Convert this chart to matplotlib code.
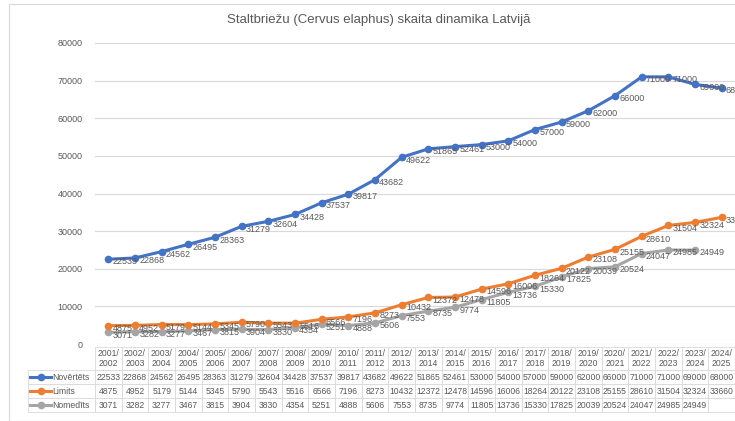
import matplotlib.pyplot as plt
from matplotlib.patches import Rectangle
from matplotlib.lines import Line2D

plt.rcParams['font.family'] = ['Liberation Sans', 'DejaVu Sans']

seasons = ["2001/\n2002", "2002/\n2003", "2003/\n2004", "2004/\n2005", "2005/\n2006",
           "2006/\n2007", "2007/\n2008", "2008/\n2009", "2009/\n2010", "2010/\n2011",
           "2011/\n2012", "2012/\n2013", "2013/\n2014", "2014/\n2015", "2015/\n2016",
           "2016/\n2017", "2017/\n2018", "2018/\n2019", "2019/\n2020", "2020/\n2021",
           "2021/\n2022", "2022/\n2023", "2023/\n2024", "2024/\n2025"]
novertets = [22533, 22868, 24562, 26495, 28363, 31279, 32604, 34428, 37537, 39817,
             43682, 49622, 51865, 52461, 53000, 54000, 57000, 59000, 62000, 66000,
             71000, 71000, 69000, 68000]
limits = [4875, 4952, 5179, 5144, 5345, 5790, 5543, 5516, 6566, 7196,
          8273, 10432, 12372, 12478, 14596, 16006, 18264, 20122, 23108, 25155,
          28610, 31504, 32324, 33660]
nomedits = [3071, 3282, 3277, 3467, 3815, 3904, 3830, 4354, 5251, 4888,
            5606, 7553, 8735, 9774, 11805, 13736, 15330, 17825, 20039, 20524,
            24047, 24985, 24949]
series_names = ["Novērtēts", "Limits", "Nomedīts"]
colors = ["#4472C4", "#ED7D31", "#A5A5A5"]
text_c = "#595959"
grid_c = "#D9D9D9"

W, H = 735, 421
fig = plt.figure(figsize=(W / 100, H / 100), dpi=100)
fig.patches.append(Rectangle((9 / W, 0), 1, 1 - 4 / H, transform=fig.transFigure,
                             fill=False, edgecolor=grid_c, linewidth=0.8))

# plot area in pixels
x0, x1, ytop, ybot = 95, 735, 43, 344
ax = fig.add_axes([x0 / W, 1 - ybot / H, (x1 - x0) / W, (ybot - ytop) / H])
ax.set_xlim(-0.5, len(seasons) - 0.5)
ax.set_ylim(0, 80000)
ax.set_yticks(range(0, 80001, 10000))
ax.set_yticklabels([str(v) for v in range(0, 80001, 10000)])
ax.tick_params(axis='y', length=0, pad=9, labelsize=6.5, labelcolor=text_c)
ax.set_xticks([])
for s in ax.spines.values():
    s.set_visible(False)
ax.grid(axis='y', color=grid_c, linewidth=0.8)
ax.set_axisbelow(True)

# draw lower series first so blue is on top
for vals, c in [(nomedits, colors[2]), (limits, colors[1]), (novertets, colors[0])]:
    xs = list(range(len(vals)))
    ax.plot(xs, vals, color=c, lw=2.2, marker='o', ms=4.5, clip_on=False, zorder=3)
    for x, v in zip(xs, vals):
        ax.annotate(str(v), (x, v), xytext=(3, -2), textcoords='offset points',
                    ha='left', va='center', fontsize=6.5, color=text_c, zorder=4,
                    annotation_clip=False)

fig.text(0.515, 1 - 20 / H, "Staltbriežu (Cervus elaphus) skaita dinamika Latvijā",
         ha='center', va='center', fontsize=9.5, color=text_c)

# data table below (first column holds the legend keys)
nom_cells = [str(v) for v in nomedits] + [''] * (len(seasons) - len(nomedits))
cell_text = [[''] + [str(v) for v in novertets],
             [''] + [str(v) for v in limits],
             [''] + nom_cells]
tbl_left, tbl_top, tbl_bot = 28, 347, 412
col_w = 26.67
tb = ax.table(cellText=cell_text, colLabels=[''] + seasons, cellLoc='center',
              colWidths=[67] + [col_w] * len(seasons),
              bbox=[(tbl_left - x0) / (x1 - x0), (ybot - tbl_bot) / (ybot - ytop),
                    (x1 - tbl_left) / (x1 - x0), (tbl_bot - tbl_top) / (ybot - ytop)])
tb.auto_set_font_size(False)
for (r, c), cell in tb.get_celld().items():
    cell.set_edgecolor(grid_c)
    cell.set_linewidth(0.6)
    cell.get_text().set_color(text_c)
    cell.get_text().set_fontsize(6.2)
    cell.set_height(0.14 if r == 0 else 0.085)
    if r == 0 and c == 0:
        cell.visible_edges = ''

# legend keys in the first column
row_y = [377, 391, 405]
for name, c, py in zip(series_names, colors, row_y):
    ya = (ybot - py) / (ybot - ytop)
    xa0 = (30 - x0) / (x1 - x0)
    xa1 = (51 - x0) / (x1 - x0)
    ax.add_line(Line2D([xa0, xa1], [ya, ya], color=c, lw=2.2, transform=ax.transAxes,
                       clip_on=False))
    ax.plot([(xa0 + xa1) / 2], [ya], 'o', color=c, ms=4.5, transform=ax.transAxes,
            clip_on=False)
    ax.text((52 - x0) / (x1 - x0), ya, name, transform=ax.transAxes, ha='left',
            va='center', fontsize=6.2, color=text_c)

fig.savefig("out.png", dpi=100)
